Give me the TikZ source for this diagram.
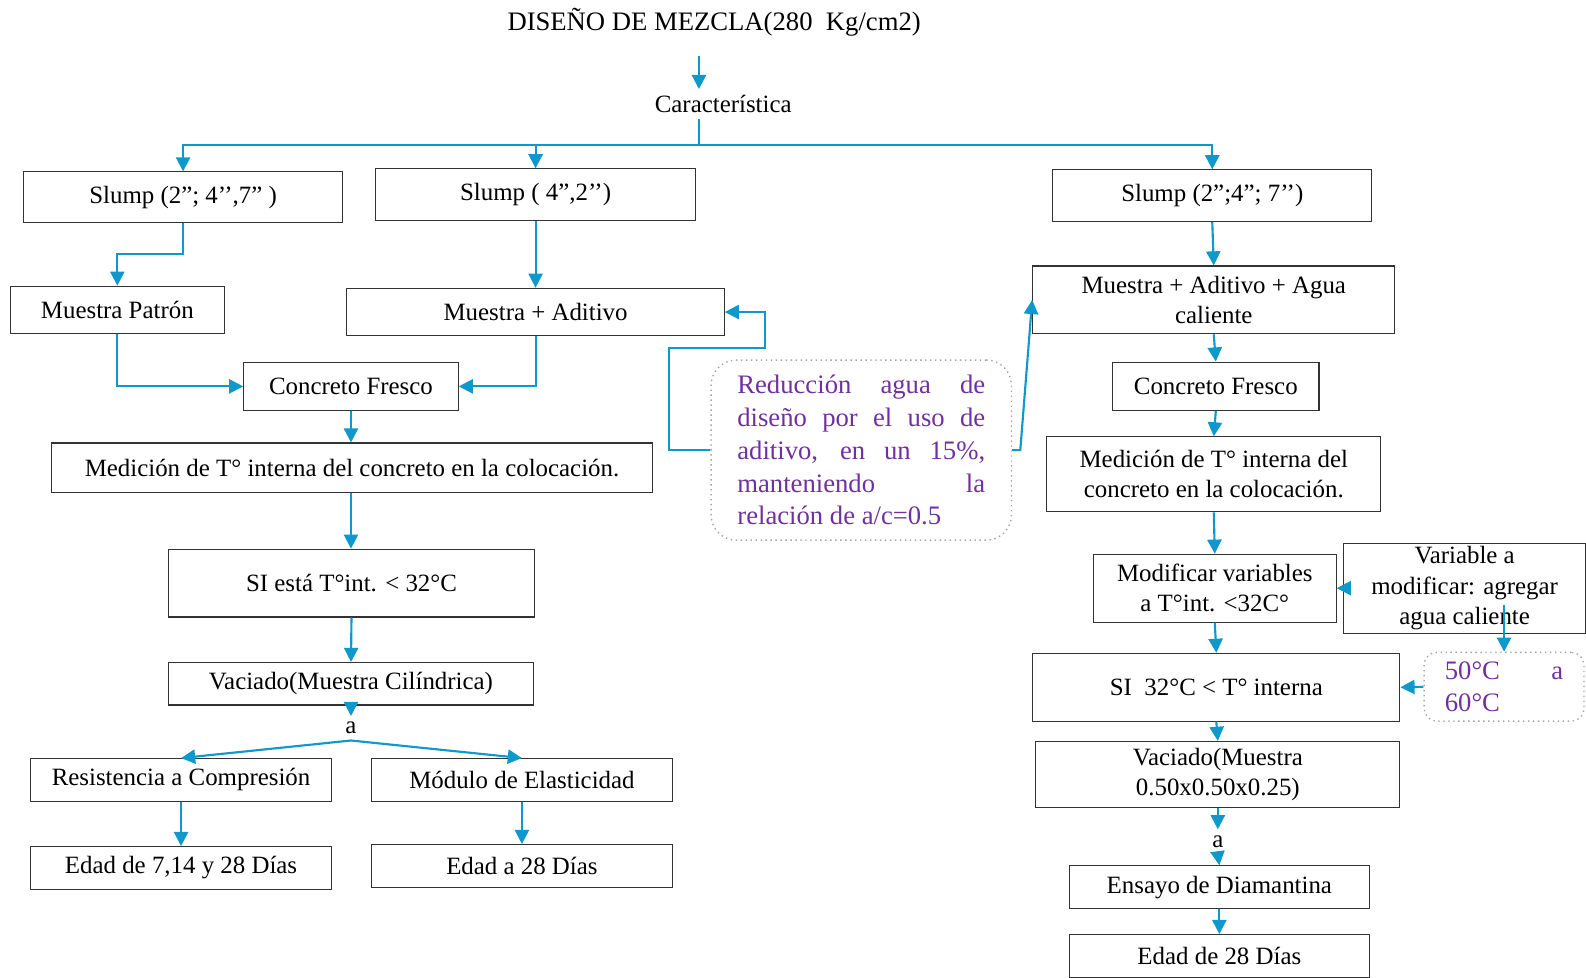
\documentclass[tikz,border=0pt]{standalone}
\usepackage{fontspec}
\setmainfont{Liberation Serif}
\usetikzlibrary{arrows.meta}
\definecolor{flecha}{RGB}{14,152,204}
\definecolor{morado}{RGB}{112,48,160}

\begin{document}
\begin{tikzpicture}[x=0.2mm, y=-0.2mm,
    >={Triangle[length=2.8mm, width=2.8mm]},
    caja/.style={draw=black!80, line width=0.6pt, align=center, inner sep=0pt,
        font=\fontsize{14}{17}\selectfont},
    nota/.style={draw=gray!70, dotted, line width=0.8pt, inner sep=0pt,
        text=morado, align=justify, font=\fontsize{15}{18.5}\selectfont},
    texto/.style={font=\fontsize{14}{17}\selectfont},
    flujo/.style={->, flecha, line width=1.2pt}
]
    \useasboundingbox (0,0) rectangle (1568,966);
    % Definitions
    \coordinate (inicio) at (691,55);
    \coordinate (reparto) at (691,143);
    \coordinate (varsal) at (1487,598);
    %%%
    %%% Top
    %%%
    \node[font=\fontsize{15}{18}\selectfont] (titulo) at (706,22) {DISEÑO DE MEZCLA(280 \ Kg/cm2)};
    \node[texto] (car) at (715,103) {Característica};
    \node[caja, minimum width=316*0.2mm, minimum height=50*0.2mm] (s1) at (181,195) {Slump (2”; 4’’,7” )};
    \node[caja, minimum width=317*0.2mm, minimum height=51*0.2mm] (s2) at (529.5,192.5) {Slump ( 4”,2’’)};
    \node[caja, minimum width=315*0.2mm, minimum height=51*0.2mm] (s3) at (1198.5,193.5) {Slump (2”;4”; 7’’)};
    %%%
    %%% Left branch
    %%%
    \node[caja, minimum width=212*0.2mm, minimum height=47*0.2mm] (mp) at (116,306.5) {Muestra Patrón};
    \node[caja, minimum width=373*0.2mm, minimum height=47*0.2mm] (ma) at (529.5,308.5) {Muestra + Aditivo};
    \node[caja, minimum width=212*0.2mm, minimum height=48*0.2mm] (cf1) at (347,382) {Concreto Fresco};
    \node[caja, minimum width=594*0.2mm, minimum height=49*0.2mm] (med1) at (348,462.5) {Medición de T° interna del concreto en la colocación.};
    \node[caja, minimum width=361*0.2mm, minimum height=67*0.2mm] (si1) at (347.5,576.5) {SI está T°int. < 32°C};
    \node[caja, minimum width=360*0.2mm, minimum height=42*0.2mm] (vac1) at (347,676) {Vaciado(Muestra Cilíndrica)};
    \node[texto] (a1) at (347,720) {a};
    \node[caja, minimum width=298*0.2mm, minimum height=42*0.2mm] (r1) at (179,771) {Resistencia a Compresión};
    \node[caja, minimum width=298*0.2mm, minimum height=42*0.2mm] (m1) at (516,771) {Módulo de Elasticidad};
    \node[caja, minimum width=298*0.2mm, minimum height=42*0.2mm] (e1) at (179,858) {Edad de 7,14 y 28 Días};
    \node[caja, minimum width=298*0.2mm, minimum height=42*0.2mm] (e2) at (516,856) {Edad a 28 Días};
    % Note on the additive
    \node[nota, rounded corners=5mm, text width=4.9cm, minimum width=297*0.2mm, minimum height=178*0.2mm] (nota1) at (851.5,445)
        {Reducción agua de\linebreak diseño por el uso de\linebreak aditivo, en un 15\%,\linebreak manteniendo la\linebreak relación de a/c=0.5};
    %%%
    %%% Right branch
    %%%
    \node[caja, minimum width=358*0.2mm, minimum height=67*0.2mm] (maa) at (1200,296.5) {Muestra + Aditivo + Agua\\caliente};
    \node[caja, minimum width=204*0.2mm, minimum height=48*0.2mm] (cf2) at (1202,382) {Concreto Fresco};
    \node[caja, minimum width=330*0.2mm, minimum height=74*0.2mm] (med2) at (1200,469) {Medición de T° interna del\\concreto en la colocación.};
    \node[caja, minimum width=240*0.2mm, minimum height=67*0.2mm] (mod) at (1201,581.5) {Modificar variables\\a T°int. <32C°};
    \node[caja, minimum width=240*0.2mm, minimum height=89*0.2mm] (var) at (1448,581.5) {Variable a\\modificar: agregar\\agua caliente};
    \node[caja, minimum width=363*0.2mm, minimum height=67*0.2mm] (si2) at (1202.5,679.5) {SI \ 32°C < T° interna};
    \node[nota, rounded corners=2.5mm, text width=2.34cm, minimum width=158*0.2mm, minimum height=68*0.2mm] (nota2) at (1487,679)
        {50°C a\linebreak 60°C};
    \node[caja, minimum width=360*0.2mm, minimum height=65*0.2mm] (vac2) at (1204,765.5) {Vaciado(Muestra\\0.50x0.50x0.25)};
    \node[texto] (a2) at (1204,832) {a};
    \node[caja, minimum width=297*0.2mm, minimum height=42*0.2mm] (ens) at (1205.5,877) {Ensayo de Diamantina};
    \node[caja, minimum width=297*0.2mm, minimum height=42*0.2mm] (e3) at (1205.5,945) {Edad de 28 Días};
    %%%
    %%% Connectors
    %%%
    \draw[flujo] (inicio) -- (car.north -| inicio);
    \draw[flecha, line width=1.2pt] (car.south -| reparto) -- (reparto);
    \draw[flujo] (reparto) -| (s1.north);
    \draw[flujo] (reparto) -| (s2.north);
    \draw[flujo] (reparto) -| (s3.north);
    % Left
    \draw[flujo] (s1.south) -- ++(0,31) -| (mp.north);
    \draw[flujo] (s2.south) -- (ma.north);
    \draw[flujo] (mp.south) |- (cf1.west);
    \draw[flujo] (ma.south) |- (cf1.east);
    \draw[flujo] (cf1.south) -- (med1.north -| cf1.south);
    \draw[flujo] (med1.south -| cf1.south) -- (si1.north -| cf1.south);
    \draw[flujo] (si1.south) -- (vac1.north);
    \draw[flujo] (vac1.south) -- (a1.north);
    \draw[flujo] (a1.south) -- (r1.north);
    \draw[flujo] (a1.south) -- (m1.north);
    \draw[flujo] (r1.south) -- (e1.north);
    \draw[flujo] (m1.south) -- (e2.north);
    % Note
    \draw[flujo] (nota1.west) -- ++(-41,0) -- ++(0,-101) -- ++(95,0) |- (ma.east);
    \draw[flujo] (nota1.east) -- ++(8,0) -- (maa.west);
    % Right
    \draw[flujo] (s3.south) -- (maa.north);
    \draw[flujo] (maa.south) -- (cf2.north);
    \draw[flujo] (cf2.south) -- (med2.north);
    \draw[flujo] (med2.south) -- (mod.north);
    \draw[flujo] (var.west) -- (mod.east);
    \draw[flujo] (varsal) -- (nota2.north);
    \draw[flujo] (mod.south) -- (si2.north);
    \draw[flujo] (nota2.west) -- (si2.east);
    \draw[flujo] (si2.south) -- (vac2.north);
    \draw[flujo] (vac2.south) -- (a2.north);
    \draw[flujo] (a2.south) -- (ens.north);
    \draw[flujo] (ens.south) -- (e3.north);
\end{tikzpicture}
\end{document}
